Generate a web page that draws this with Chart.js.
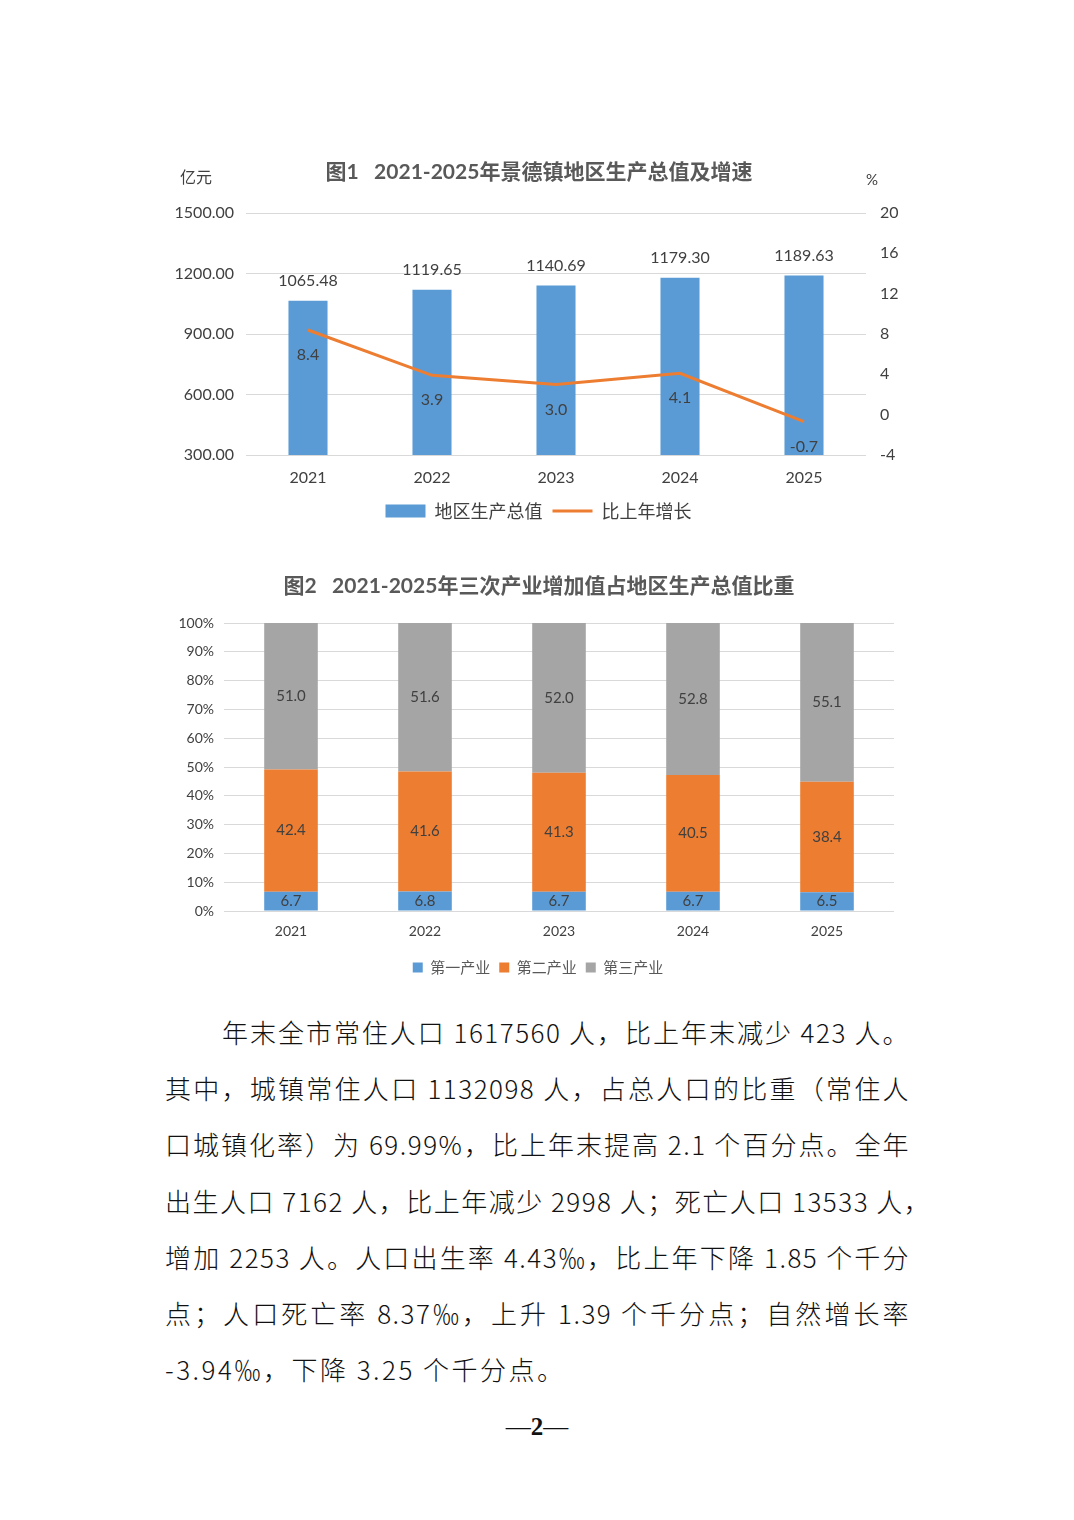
<!DOCTYPE html>
<html>
<head>
<meta charset="utf-8">
<script src="https://cdn.jsdelivr.net/npm/chart.js@4"></script>
<style>
  html, body { margin: 0; padding: 0; background: #fff; }
  body { width: 1074px; height: 1520px; position: relative; overflow: hidden; }
  .box { position: absolute; }
  #c1box { left: 150px; top: 140px; width: 760px; height: 400px; }
  #c2box { left: 150px; top: 560px; width: 760px; height: 440px; }
  .text { position: absolute; left: 165px; top: 1004px; width: 745px;
    font-family: "Noto Sans CJK SC", sans-serif; font-size: 26px; font-weight: 300; color: #111;
    letter-spacing: 1.5px; }
  .text div { height: 56.2px; line-height: 56.2px; text-align: justify; text-align-last: justify; white-space: nowrap; }
  .text div.first { padding-left: 57px; }
  .text div.last { text-align-last: left; letter-spacing: 2.5px; }
  .pageno { position: absolute; left: 0; width: 1074px; top: 1413px; text-align: center;
    font-family: "Liberation Serif", serif; font-size: 25px; color: #111; }
</style>
</head>
<body>
<div class="box" id="c1box"><canvas id="chart1"></canvas></div>
<div class="box" id="c2box"><canvas id="chart2"></canvas></div>

<div class="text">
  <div class="first">年末全市常住人口 1617560 人，比上年末减少 423 人。</div>
  <div>其中，城镇常住人口 1132098 人，占总人口的比重（常住人</div>
  <div>口城镇化率）为 69.99%，比上年末提高 2.1 个百分点。全年</div>
  <div>出生人口 7162 人，比上年减少 2998 人；死亡人口 13533 人，</div>
  <div>增加 2253 人。人口出生率 4.43‰，比上年下降 1.85 个千分</div>
  <div>点；人口死亡率 8.37‰，上升 1.39 个千分点；自然增长率</div>
  <div class="last">-3.94‰，下降 3.25 个千分点。</div>
</div>
<div class="pageno">—<b>2</b>—</div>

<script>
// ---- data ----
const years = ['2021', '2022', '2023', '2024', '2025'];
const gdp = [1065.48, 1119.65, 1140.69, 1179.30, 1189.63];
const growth = [8.4, 3.9, 3.0, 4.1, -0.7];

const primary = [6.7, 6.8, 6.7, 6.7, 6.5];
const secondary = [42.4, 41.6, 41.3, 40.5, 38.4];
const tertiary = [51.0, 51.6, 52.0, 52.8, 55.1];

const FONT = 'Lato, "Noto Sans CJK SC", sans-serif';
const CJK = '"Noto Sans CJK SC", sans-serif';
const TXT = '#404040';

// draws value labels and extra captions
const labelPlugin = {
    id: 'labels',
    afterDatasetsDraw(chart, args, opts) {
        const ctx = chart.ctx;
        ctx.save();
        chart.data.datasets.forEach((ds, i) => {
            if (!ds.labelPos) return;
            const meta = chart.getDatasetMeta(i);
            meta.data.forEach((el, j) => {
                const txt = ds.data[j].toFixed(ds.labelDigits);
                ctx.font = ds.labelFont;
                ctx.fillStyle = TXT;
                ctx.textAlign = 'center';
                ctx.textBaseline = 'middle';
                let y;
                if (ds.labelPos === 'top') {
                    y = el.y - 20;
                } else if (ds.labelPos === 'below') {
                    y = el.y + 25;
                } else {
                    y = (el.y + el.base) / 2;
                }
                ctx.fillText(txt, el.x, y);
            });
        });
        (opts.captions || []).forEach(c => {
            ctx.font = c.font;
            ctx.fillStyle = c.color;
            ctx.textAlign = c.align || 'center';
            ctx.textBaseline = 'middle';
            ctx.fillText(c.text, c.x, c.y);
        });
        ctx.restore();
    }
};

new Chart(document.getElementById('chart1'), {
    type: 'bar',
    plugins: [labelPlugin],
    data: {
        labels: years,
        datasets: [
            {
                type: 'line',
                label: '比上年增长',
                data: growth,
                yAxisID: 'y1',
                borderColor: '#ED7D31',
                backgroundColor: '#ED7D31',
                borderWidth: 3,
                pointRadius: 0,
                pointStyle: 'line',
                tension: 0,
                order: 1,
                labelPos: 'below',
                labelDigits: 1,
                labelFont: '16px ' + FONT
            },
            {
                type: 'bar',
                label: '地区生产总值',
                data: gdp,
                yAxisID: 'y',
                backgroundColor: '#5B9BD5',
                borderWidth: 0,
                pointStyle: 'rect',
                categoryPercentage: 1,
                barPercentage: 0.315,
                order: 2,
                labelPos: 'top',
                labelDigits: 2,
                labelFont: '16px ' + FONT
            }
        ]
    },
    options: {
        responsive: true,
        maintainAspectRatio: false,
        animation: false,
        layout: { padding: { top: 73, bottom: 10, left: 17, right: 0 } },
        plugins: {
            legend: {
                position: 'bottom',
                reverse: true,
                labels: {
                    usePointStyle: true,
                    pointStyleWidth: 40,
                    boxHeight: 13,
                    padding: 10,
                    color: TXT,
                    font: { family: CJK, size: 18 }
                }
            },
            tooltip: { enabled: false },
            labels: {
                captions: [
                    { text: '图1   2021-2025年景德镇地区生产总值及增速', x: 389, y: 32, font: 'bold 21px ' + FONT, color: '#595959' },
                    { text: '亿元', x: 46, y: 37, font: '16px ' + CJK, color: TXT },
                    { text: '%', x: 722, y: 40, font: '15px ' + FONT, color: TXT }
                ]
            }
        },
        scales: {
            x: {
                grid: { display: false, drawTicks: false },
                border: { display: false },
                ticks: { color: TXT, font: { family: FONT, size: 16 }, padding: 13 },
                afterFit: s => { s.height = 37; }
            },
            y: {
                position: 'left',
                min: 300,
                max: 1500,
                ticks: {
                    stepSize: 300,
                    color: TXT,
                    padding: 12,
                    font: { family: FONT, size: 16 },
                    callback: v => v.toFixed(2)
                },
                grid: { color: '#d9d9d9', lineWidth: 1, drawTicks: false },
                border: { display: false },
                afterFit: s => { s.width = 79; }
            },
            y1: {
                position: 'right',
                min: -4,
                max: 20,
                ticks: { stepSize: 4, color: TXT, padding: 14, font: { family: FONT, size: 16 } },
                grid: { drawOnChartArea: false, drawTicks: false },
                border: { display: false },
                afterFit: s => { s.width = 44; }
            }
        }
    }
});

new Chart(document.getElementById('chart2'), {
    type: 'bar',
    plugins: [labelPlugin],
    data: {
        labels: years,
        datasets: [
            { label: '第一产业', data: primary, backgroundColor: '#5B9BD5' },
            { label: '第二产业', data: secondary, backgroundColor: '#ED7D31' },
            { label: '第三产业', data: tertiary, backgroundColor: '#A5A5A5' }
        ].map(d => Object.assign(d, {
            borderWidth: 0,
            categoryPercentage: 1,
            barPercentage: 0.4,
            labelPos: 'center',
            labelDigits: 1,
            labelFont: '15px ' + FONT
        }))
    },
    options: {
        responsive: true,
        maintainAspectRatio: false,
        animation: false,
        layout: { padding: { top: 63, bottom: 15, left: 16, right: 0 } },
        plugins: {
            legend: {
                position: 'bottom',
                labels: {
                    boxWidth: 10,
                    boxHeight: 10,
                    padding: 9,
                    color: '#595959',
                    font: { family: CJK, size: 15 }
                }
            },
            tooltip: { enabled: false },
            labels: {
                captions: [
                    { text: '图2   2021-2025年三次产业增加值占地区生产总值比重', x: 389, y: 26, font: 'bold 21px ' + FONT, color: '#595959' }
                ]
            }
        },
        scales: {
            x: {
                stacked: true,
                grid: { display: false, drawTicks: false },
                border: { display: false },
                ticks: { color: TXT, font: { family: FONT, size: 14 }, padding: 12 },
                afterFit: s => { s.height = 40; }
            },
            y: {
                stacked: true,
                min: 0,
                max: 100,
                ticks: {
                    stepSize: 10,
                    color: TXT,
                    padding: 10,
                    font: { family: FONT, size: 14 },
                    callback: v => v + '%'
                },
                grid: { color: '#d9d9d9', lineWidth: 1, drawTicks: false },
                border: { display: false },
                afterFit: s => { s.width = 58; }
            },
            // empty spacer on the right so the plot ends where the reference does
            yr: {
                position: 'right',
                ticks: { display: false },
                grid: { display: false, drawTicks: false },
                border: { display: false },
                afterFit: s => { s.width = 16; }
            }
        }
    }
});
</script>
</body>
</html>
